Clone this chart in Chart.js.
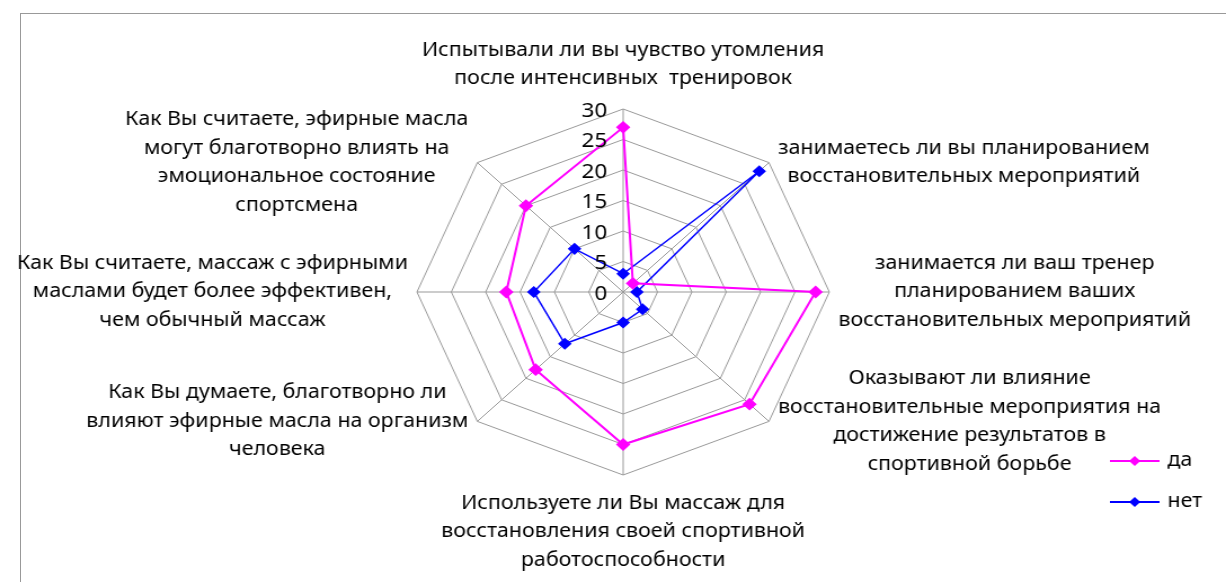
<!DOCTYPE html>
<html>
<head>
<meta charset="utf-8">
<script src="https://cdn.jsdelivr.net/npm/chart.js@4.4.1/dist/chart.umd.min.js"></script>
<style>
  html, body { margin: 0; padding: 0; background: #fff; }
  #wrap { position: relative; width: 1226px; height: 582px; overflow: hidden; }
  #frame { position: absolute; left: 20px; top: 13px; width: 1300px; height: 700px;
           border-top: 1px solid #999; border-left: 1px solid #999; }
  #chart { position: absolute; left: 0; top: 0; }
</style>
</head>
<body>
<div id="wrap">
  <div id="frame"></div>
  <!-- drawn narrow and stretched sideways, like the original picture -->
  <canvas id="chart" width="1088" height="582" style="width:1226px;height:582px"></canvas>
</div>
<script>
// --- data ---
const categories = [
    ['Испытывали ли вы чувство утомления', 'после интенсивных  тренировок'],
    ['занимаетесь ли вы планированием', 'восстановительных мероприятий'],
    ['занимается ли ваш тренер', 'планированием ваших', 'восстановительных мероприятий'],
    ['Оказывают ли влияние', 'восстановительные мероприятия на', 'достижение результатов в', 'спортивной борьбе'],
    ['Используете ли Вы массаж для', 'восстановления своей спортивной', 'работоспособности'],
    ['Как Вы думаете, благотворно ли', 'влияют эфирные масла на организм', 'человека'],
    ['Как Вы считаете, массаж с эфирными', 'маслами будет более эффективен,', 'чем обычный массаж'],
    ['Как Вы считаете, эфирные масла', 'могут благотворно влиять на', 'эмоциональное состояние', 'спортсмена']
];
const seriesNames = ['да', 'нет'];
const daValues = [27, 2, 28, 26, 25, 18, 17, 20];
const netValues = [3, 28, 2, 4, 5, 12, 13, 10];
const tickValues = [0, 5, 10, 15, 20, 25, 30];

const FONT = '"Noto Sans", sans-serif';
const LABEL_SIZE = 19;
const LINE_H = 28.5;

function diamond(ctx, x, y, rad, color) {
    ctx.beginPath();
    ctx.moveTo(x, y - rad);
    ctx.lineTo(x + rad, y);
    ctx.lineTo(x, y + rad);
    ctx.lineTo(x - rad, y);
    ctx.closePath();
    ctx.fillStyle = color;
    ctx.fill();
}

// category labels, tick numbers and legend drawn Excel-style
const excelText = {
    id: 'excelText',
    afterDraw(chart) {
        const r = chart.scales.r;
        const ctx = chart.ctx;
        ctx.save();
        ctx.fillStyle = '#000';
        ctx.textBaseline = 'middle';
        ctx.textAlign = 'center';
        ctx.font = `${LABEL_SIZE}px ${FONT}`;

        chart.data.labels.forEach((lines, i) => {
            const p = r.getPointPosition(i, r.drawingArea);
            const a = r.getIndexAngle(i) - Math.PI / 2;
            const cos = Math.cos(a), sin = Math.sin(a);
            const w = Math.max(...lines.map(l => ctx.measureText(l).width));
            const h = lines.length * LINE_H;
            let cx, top;
            if (Math.abs(cos) < 0.1) {
                cx = p.x;
                top = sin < 0 ? p.y - 16 - h : p.y + 14;
            } else {
                cx = cos > 0 ? p.x + 8 + w / 2 : p.x - 8 - w / 2;
                top = p.y - h / 2;
            }
            lines.forEach((l, k) => ctx.fillText(l, cx, top + LINE_H * (k + 0.5)));
        });

        // tick numbers sit left of the top axis
        ctx.textAlign = 'right';
        ctx.font = `20px ${FONT}`;
        tickValues.forEach(v => {
            const d = r.getDistanceFromCenterForValue(v);
            ctx.fillText(String(v), r.xCenter - 14, r.yCenter - d + 2);
        });

        // legend
        ctx.textAlign = 'left';
        ctx.font = `${LABEL_SIZE}px ${FONT}`;
        chart.data.datasets.forEach((ds, k) => {
            const y = 461 + k * 41;
            ctx.strokeStyle = ds.borderColor;
            ctx.lineWidth = 2;
            ctx.beginPath();
            ctx.moveTo(985, y);
            ctx.lineTo(1029, y);
            ctx.stroke();
            diamond(ctx, 1007, y, 5, ds.borderColor);
            ctx.fillStyle = '#000';
            ctx.fillText(ds.label, 1036, y);
        });
        ctx.restore();
    }
};

new Chart(document.getElementById('chart'), {
    type: 'radar',
    data: {
        labels: categories,
        datasets: [
            {
                label: seriesNames[0],
                data: daValues,
                borderColor: '#FF00FF',
                backgroundColor: '#FF00FF',
                pointBackgroundColor: '#FF00FF',
                borderWidth: 2,
                pointStyle: 'rectRot',
                pointRadius: 5,
                fill: false
            },
            {
                label: seriesNames[1],
                data: netValues,
                borderColor: '#0000FF',
                backgroundColor: '#0000FF',
                pointBackgroundColor: '#0000FF',
                borderWidth: 1.5,
                pointStyle: 'rectRot',
                pointRadius: 5,
                fill: false
            }
        ]
    },
    options: {
        responsive: false,
        animation: false,
        layout: { padding: { left: 370, right: 352, top: 109, bottom: 107 } },
        scales: {
            r: {
                min: tickValues[0],
                max: tickValues[tickValues.length - 1],
                ticks: { display: false, stepSize: tickValues[1] - tickValues[0] },
                pointLabels: { display: false },
                grid: { color: '#999', lineWidth: 1 },
                angleLines: { color: '#999', lineWidth: 1 }
            }
        },
        plugins: {
            legend: { display: false },
            tooltip: { enabled: false }
        }
    },
    plugins: [excelText]
});
</script>
</body>
</html>
